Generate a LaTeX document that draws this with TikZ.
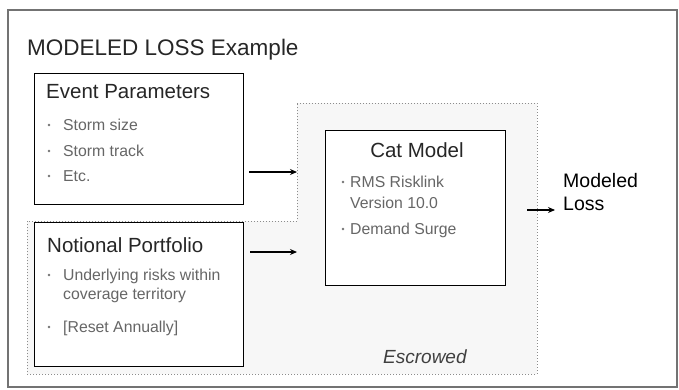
\documentclass[tikz,border=0pt]{standalone}
\usepackage{fontspec}
\setmainfont{Liberation Sans}
\usetikzlibrary{arrows.meta}

\tikzset{
  frame/.style={draw=black!55, line width=1.4pt},
  escrow/.style={draw=black!45, dotted, line width=1pt, fill=black!3},
  panel/.style={draw=black, line width=1.4pt, fill=white, inner sep=0pt},
  headtext/.style={anchor=base west, inner sep=0pt, text=black!85,
    font=\fontsize{20.5}{24}\selectfont},
  itemtext/.style={anchor=base west, inner sep=0pt, text=black!60,
    font=\fontsize{15.8}{18}\selectfont},
  bulletdot/.style={circle, fill=black!55, inner sep=0pt, minimum size=2.6pt},
  flow/.style={draw=black, line width=1.1pt, -{Stealth[length=7pt,width=6pt]}},
}

\begin{document}
\begin{tikzpicture}[x=1pt, y=-1pt]
  \useasboundingbox (0,0) rectangle (679,389);

  % outer frame
  \draw[frame] (8,10) rectangle (677,387);

  % title
  \node[anchor=base west, inner sep=0pt, text=black!85,
        font=\fontsize{22.5}{26}\selectfont] (title) at (27,55) {MODELED LOSS Example};

  % escrowed area (dotted outline, light tint)
  \draw[escrow] (297,103) -- (537,103) -- (537,374) -- (27,374)
                -- (27,221) -- (297,221) -- cycle;
  \node[anchor=base west, inner sep=0pt, text=black!75,
        font=\fontsize{19}{22}\itshape\selectfont] (escrowed) at (383,363) {Escrowed};

  % Event Parameters panel
  \node[panel, anchor=north west, minimum width=209pt, minimum height=131pt] (ev) at (34,73) {};
  \node[headtext] (evh) at (46,98) {Event Parameters};
  \node[bulletdot] (evb1) at (49,125) {};
  \node[itemtext] (evt1) at (63,130) {Storm size};
  \node[bulletdot] (evb2) at (49,151) {};
  \node[itemtext] (evt2) at (63,156) {Storm track};
  \node[bulletdot] (evb3) at (49,176) {};
  \node[itemtext] (evt3) at (63,181) {Etc.};

  % Notional Portfolio panel
  \node[panel, anchor=north west, minimum width=209pt, minimum height=144pt] (np) at (34,222) {};
  \node[headtext] (nph) at (47,252) {Notional Portfolio};
  \node[bulletdot] (npb1) at (49,275) {};
  \node[itemtext] (npt1) at (63,280) {Underlying risks within};
  \node[itemtext] (npt2) at (63,299) {coverage territory};
  \node[bulletdot] (npb2) at (49,327) {};
  \node[itemtext] (npt3) at (63,332) {[Reset Annually]};

  % Cat Model panel
  \node[panel, anchor=north west, minimum width=180pt, minimum height=155pt] (cm) at (325,130) {};
  \node[anchor=base, inner sep=0pt, text=black!85,
        font=\fontsize{20.5}{24}\selectfont] (cmh) at (417,157) {Cat Model};
  \node[bulletdot] (cmb1) at (343,182) {};
  \node[itemtext] (cmt1) at (350,187) {RMS Risklink};
  \node[itemtext] (cmt2) at (350,208) {Version 10.0};
  \node[bulletdot] (cmb2) at (343,229) {};
  \node[itemtext] (cmt3) at (350,234) {Demand Surge};

  % result
  \node[anchor=base west, inner sep=0pt, align=left, text=black,
        font=\fontsize{19.5}{23}\selectfont] (loss) at (563,210) {Modeled\\Loss};

  % connectors
  \coordinate (evin) at (297,172);
  \coordinate (npin) at (297,252);
  \coordinate (cmout) at (527,210);
  \coordinate (lossin) at (555,210);
  \draw[flow, shorten <=5pt] (ev.east |- evin) -- (evin);
  \draw[flow, shorten <=6pt] (np.east |- npin) -- (npin);
  \draw[flow] (cmout) -- (lossin);
\end{tikzpicture}
\end{document}
